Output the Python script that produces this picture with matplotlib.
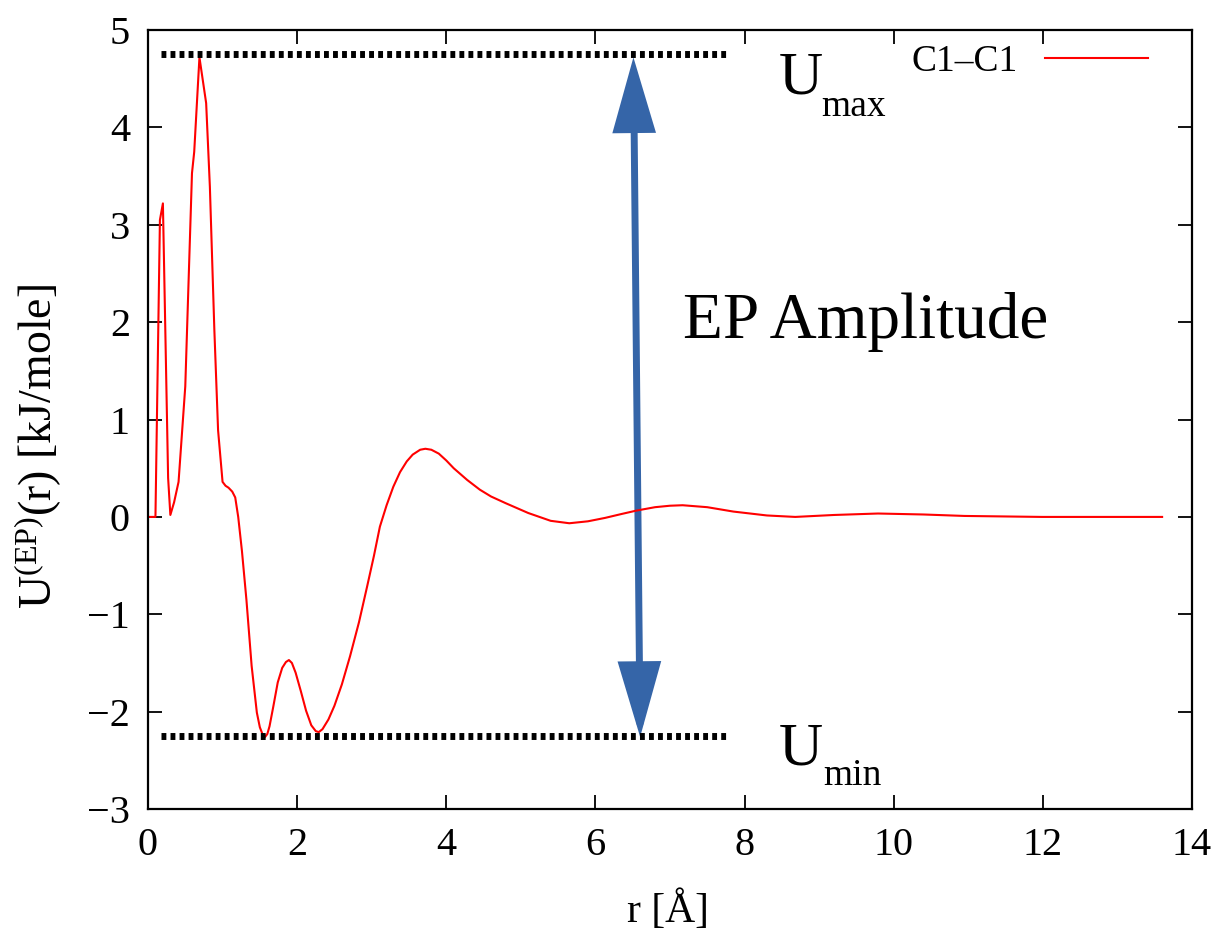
import matplotlib
matplotlib.use("Agg")
import matplotlib.pyplot as plt
from matplotlib.patches import FancyArrowPatch

plt.rcParams['font.family'] = ['Liberation Serif', 'DejaVu Serif']
plt.rcParams['mathtext.fontset'] = 'custom'
plt.rcParams['mathtext.rm'] = 'Liberation Serif'
plt.rcParams['mathtext.it'] = 'Liberation Serif:italic'

# C1-C1 effective potential
r = [0.0, 0.10, 0.16, 0.20, 0.27, 0.30, 0.35, 0.41, 0.50, 0.59, 0.62, 0.69,
     0.78, 0.83, 0.89, 0.94, 1.00, 1.04, 1.08, 1.13, 1.17, 1.21, 1.26, 1.32,
     1.39, 1.46, 1.50, 1.54, 1.57, 1.60, 1.63, 1.68, 1.74, 1.80, 1.85, 1.89,
     1.93, 1.98, 2.05, 2.12, 2.19, 2.25, 2.29, 2.34, 2.42, 2.50, 2.60, 2.71,
     2.83, 2.94, 3.03, 3.11, 3.20, 3.29, 3.38, 3.47, 3.55, 3.65, 3.72, 3.80,
     3.90, 4.00, 4.10, 4.28, 4.45, 4.60, 4.80, 5.10, 5.40, 5.65, 5.90, 6.13,
     6.35, 6.55, 6.80, 7.00, 7.17, 7.50, 7.85, 8.30, 8.68, 9.20, 9.79, 10.40,
     10.95, 11.99, 13.60]
u = [0.0, 0.0, 3.05, 3.22, 0.40, 0.02, 0.15, 0.36, 1.34, 3.53, 3.75, 4.72,
     4.25, 3.39, 1.92, 0.89, 0.36, 0.32, 0.30, 0.26, 0.20, 0.0, -0.35, -0.85,
     -1.53, -2.01, -2.16, -2.24, -2.26, -2.23, -2.15, -1.95, -1.70, -1.55, -1.49, -1.47,
     -1.50, -1.60, -1.79, -1.99, -2.14, -2.20, -2.21, -2.18, -2.08, -1.94, -1.72, -1.43,
     -1.08, -0.71, -0.40, -0.10, 0.12, 0.31, 0.46, 0.57, 0.64, 0.69, 0.70, 0.69,
     0.65, 0.58, 0.50, 0.38, 0.28, 0.21, 0.14, 0.04, -0.04, -0.065, -0.045, -0.01,
     0.03, 0.065, 0.10, 0.115, 0.12, 0.10, 0.055, 0.015, 0.0, 0.02, 0.035, 0.025,
     0.01, 0.0, 0.0]

u_max = 4.75
u_min = -2.25
guide_from, guide_to = 0.17, 7.77
arrow_top = (6.51, 4.72)
arrow_bottom = (6.60, -2.26)

xticks = [0, 2, 4, 6, 8, 10, 12, 14]
yticks = [-3, -2, -1, 0, 1, 2, 3, 4, 5]

fig = plt.figure(figsize=(12.2, 9.34), dpi=100)
ax = fig.add_axes([0.1213, 0.1338, 0.8557, 0.834])

ax.plot(r, u, color='red', linewidth=1.5, label='C1\u2013C1')

ax.hlines([u_max, u_min], guide_from, guide_to, colors='black',
          linewidth=5, linestyles=(0, (0.7, 0.6)))

arr = FancyArrowPatch(arrow_bottom, arrow_top,
                      arrowstyle='<|-|>,head_length=2.15,head_width=0.62',
                      mutation_scale=20, color='#3565a8', linewidth=5,
                      joinstyle='miter', capstyle='butt',
                      shrinkA=0, shrinkB=0)
ax.add_patch(arr)

ax.text(7.18, 2.0, 'EP Amplitude', fontsize=47, va='center', ha='left')
ax.text(8.46, 4.35, 'U', fontsize=44)
ax.text(9.03, 4.12, 'max', fontsize=27)
ax.text(8.46, -2.54, 'U', fontsize=44)
ax.text(9.05, -2.75, 'min', fontsize=27)

ax.set_xlim(0, 14)
ax.set_ylim(-3, 5)
ax.set_xticks(xticks)
ax.set_yticks(yticks)
ax.set_yticklabels(['\u22123', '\u22122', '\u22121', '0', '1', '2', '3', '4', '5'])
ax.tick_params(direction='in', length=10, width=1.3, labelsize=29,
               top=True, right=True)
ax.tick_params(axis='x', pad=13)
ax.tick_params(axis='y', pad=13)
for s in ax.spines.values():
    s.set_linewidth(1.6)

ax.set_xlabel('r [\u00c5]', fontsize=30)
ax.xaxis.set_label_coords(0.498, -0.104)
ax.set_ylabel(r'U$^{\rm (EP)}$(r) [kJ/mole]', fontsize=33)
ax.yaxis.set_label_coords(-0.08, 0.466)

ax.legend(loc='center right', bbox_to_anchor=(0.958, 0.959), frameon=False,
          fontsize=27, markerfirst=False, handlelength=2.75,
          handletextpad=0.72, borderpad=0, borderaxespad=0)

fig.savefig('out.png', dpi=100)
